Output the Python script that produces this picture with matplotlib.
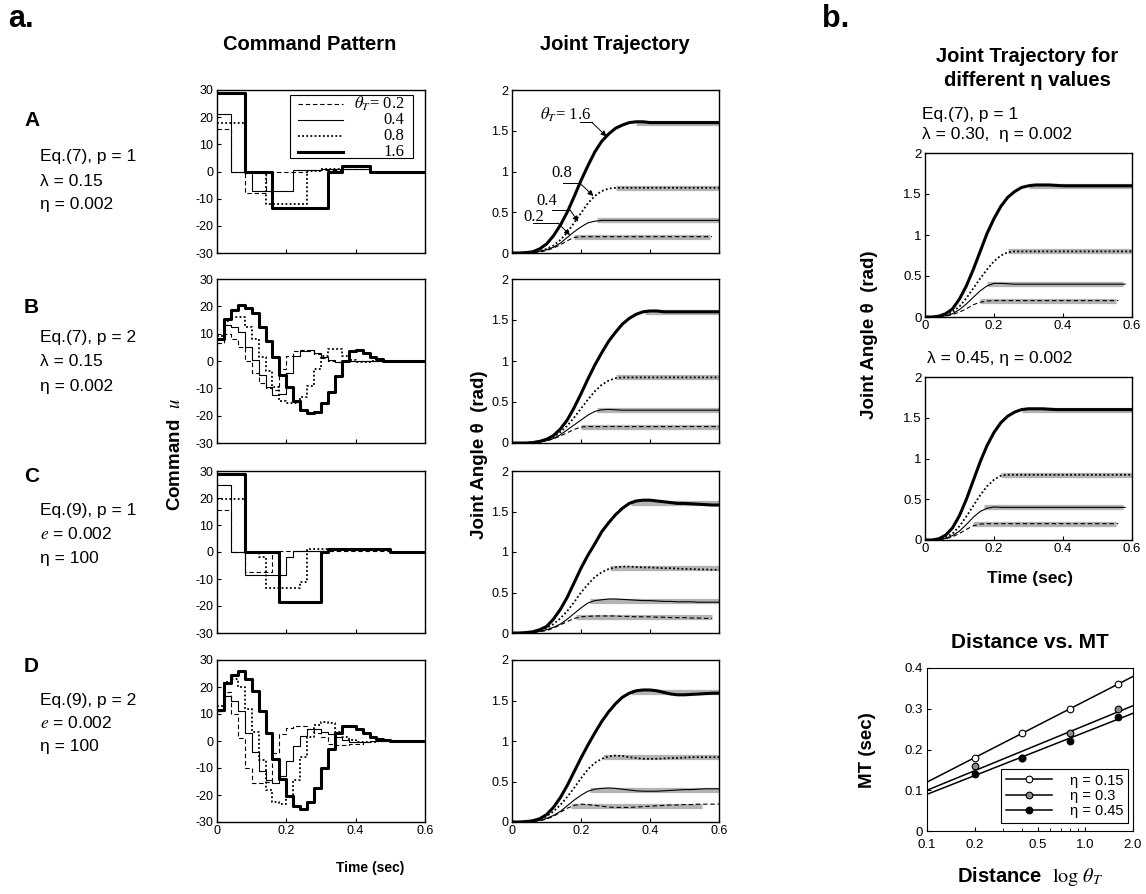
import matplotlib
matplotlib.use("Agg")
import matplotlib.pyplot as plt
import numpy as np
from matplotlib.ticker import FixedLocator, NullFormatter

plt.rcParams["font.family"] = ["Liberation Sans", "DejaVu Sans"]
plt.rcParams["mathtext.fontset"] = "stix"

W, H = 1146, 894

# ---------------- data ----------------
LEVELS = [0.2, 0.4, 0.8, 1.6]

# command patterns, panel A / C: step breakpoints (t, u)
cmdA_t = {
    0.2: [0, 0.04, 0.08, 0.14, 0.26, 0.36, 0.44, 0.6],
    0.4: [0, 0.04, 0.10, 0.22, 0.30, 0.36, 0.44, 0.6],
    0.8: [0, 0.08, 0.14, 0.26, 0.30, 0.36, 0.44, 0.6],
    1.6: [0, 0.08, 0.16, 0.32, 0.36, 0.44, 0.6],
}
cmdA_u = {
    0.2: [15.5, 0, -8, 0, 0.5, 1, 0, 0],
    0.4: [21, 0, -7, 0.5, 0.8, 1, 0, 0],
    0.8: [18, 0, -12, 0.3, 1, 1.5, 0, 0],
    1.6: [29, 0, -13.5, 0, 2, 0, 0],
}
cmdC_t = {
    0.2: [0, 0.04, 0.08, 0.16, 0.18, 0.5, 0.6],
    0.4: [0, 0.04, 0.08, 0.20, 0.22, 0.32, 0.5, 0.6],
    0.8: [0, 0.08, 0.12, 0.14, 0.24, 0.26, 0.32, 0.5, 0.6],
    1.6: [0, 0.08, 0.18, 0.30, 0.32, 0.50, 0.6],
}
cmdC_u = {
    0.2: [15.5, 0, -7.5, -0.5, 0.3, 0, 0],
    0.4: [25, 0, -8.5, -2, 0.3, 1, 0, 0],
    0.8: [19.5, 0, -2, -13.5, -11, 1, 1.2, 0, 0],
    1.6: [29, 0, -18.5, 0, 1.2, 0, 0],
}

# command patterns, panel B / D: one value per 0.02 s step
STEP_T = [round(0.02 * k, 2) for k in range(31)]
cmdB_u = {
    0.2: [6.5, 10, 8, 5, 0, -4.5, -8, -10, -10.5, -3, 2, 3.5, 4, 3.5, 2.5, 1, 0, -0.3]
         + [0] * 13,
    0.4: [8, 13, 12.5, 10.5, 5, 0.5, -5, -9.5, -12.5, -12, -4.5, 2, 3.5, 4, 3, 1.5,
          0.5, -0.3] + [0] * 13,
    0.8: [9, 14.5, 16, 16, 12.5, 8, 1.5, -3.5, -9.5, -14.5, -15.5, -15.5, -13, -9, -3,
          2, 4.5, 4.5, 2, 0.5, -0.3, -0.3] + [0] * 9,
    1.6: [8, 15.5, 18.5, 20.5, 19.5, 17.5, 12.5, 7.5, 1.5, -5, -9.5, -14.5, -18, -19,
          -18.5, -15.5, -11.5, -5.5, 0, 3.5, 4, 3, 1.5, 0.8] + [0] * 7,
}
cmdD_u = {
    0.2: [11, 18, 10, 1, -10, -15.5, -15.5, -15, -4.5, 2.5, 5, 5.5, 5.5, 4.5, 3, 1.5,
          -1, -1.5, -1.5, -1.2, -1, -0.5] + [0] * 9,
    0.4: [11, 16.5, 15, 11, 3, -4, -11, -14.5, -15.5, -13, -7.5, -2, 2, 4.5, 4.5, 3.5,
          2.5, 1.5, 0.5, -0.3, -0.5, -0.3] + [0] * 9,
    0.8: [13, 22, 23, 20, 12, 3.5, -7, -18, -22.5, -23.5, -20.5, -14.5, -6, 1.5, 6, 7,
          6.5, 3.5, 1.5, 0.2, -0.5, -0.5, -0.3] + [0] * 8,
    1.6: [11.5, 21.3, 24.4, 26, 23, 18.5, 11, 3, -6.5, -14, -20.5, -24, -25, -22.5,
          -17.5, -10, -3, 3, 5.5, 5.5, 4.3, 2.8, 1.6, 0.9, 0.4] + [0] * 6,
}

# joint trajectories, sampled every 0.02 s from t = 0
trajA = {
    0.2: [0, 0, 0.001, 0.004, 0.012, 0.03, 0.06, 0.10, 0.15, 0.19] + [0.20] * 20,
    0.4: [0, 0, 0.002, 0.008, 0.02, 0.04, 0.07, 0.12, 0.19, 0.26, 0.32, 0.37, 0.39,
          0.40, 0.40] + [0.40] * 16,
    0.8: [0, 0, 0.003, 0.01, 0.025, 0.05, 0.09, 0.16, 0.25, 0.37, 0.49, 0.61, 0.70,
          0.76, 0.79] + [0.80] * 16,
    1.6: [0, 0, 0.005, 0.015, 0.05, 0.11, 0.21, 0.34, 0.50, 0.69, 0.89, 1.07, 1.24,
          1.37, 1.46, 1.53, 1.57, 1.60, 1.61, 1.61] + [1.60] * 11,
}
trajB = {
    0.2: [0, 0, 0, 0.003, 0.01, 0.025, 0.05, 0.085, 0.125, 0.165, 0.195, 0.20]
         + [0.20] * 19,
    0.4: [0, 0, 0.001, 0.004, 0.012, 0.03, 0.055, 0.10, 0.16, 0.22, 0.28, 0.34, 0.385,
          0.405, 0.41, 0.405] + [0.40] * 15,
    0.8: [0, 0, 0.002, 0.005, 0.015, 0.035, 0.07, 0.13, 0.21, 0.31, 0.42, 0.53, 0.63,
          0.71, 0.76, 0.79, 0.80] + [0.80] * 14,
    1.6: [0, 0, 0, 0.005, 0.02, 0.045, 0.09, 0.17, 0.28, 0.43, 0.60, 0.78, 0.95, 1.10,
          1.24, 1.35, 1.45, 1.52, 1.57, 1.60, 1.61, 1.61] + [1.60] * 9,
}
trajC = {
    0.2: [0, 0, 0.001, 0.005, 0.015, 0.03, 0.06, 0.10, 0.14, 0.18, 0.20, 0.205, 0.21,
          0.21, 0.21, 0.21, 0.205, 0.205, 0.20, 0.20, 0.20, 0.195, 0.195, 0.19, 0.19,
          0.19, 0.185, 0.185, 0.18, 0.18],
    0.4: [0, 0, 0.002, 0.008, 0.02, 0.04, 0.07, 0.11, 0.17, 0.24, 0.31, 0.37, 0.40,
          0.41, 0.42, 0.42, 0.415, 0.41, 0.405, 0.40, 0.40, 0.395, 0.39, 0.39, 0.385,
          0.385, 0.385, 0.38, 0.38, 0.38, 0.38],
    0.8: [0, 0, 0.002, 0.01, 0.03, 0.06, 0.11, 0.18, 0.27, 0.38, 0.50, 0.60, 0.69,
          0.75, 0.79, 0.81, 0.82, 0.82, 0.815, 0.81, 0.81, 0.805, 0.80, 0.80, 0.795,
          0.79, 0.79, 0.785, 0.785, 0.78, 0.78],
    1.6: [0, 0, 0.005, 0.015, 0.04, 0.08, 0.17, 0.29, 0.44, 0.62, 0.80, 0.96, 1.10,
          1.25, 1.36, 1.46, 1.54, 1.60, 1.63, 1.64, 1.64, 1.63, 1.62, 1.61, 1.60,
          1.60, 1.595, 1.59, 1.585, 1.58, 1.58],
}
trajD = {
    0.2: [0, 0, 0.001, 0.005, 0.015, 0.035, 0.07, 0.12, 0.17, 0.205, 0.22, 0.215,
          0.205, 0.195, 0.185, 0.18, 0.18, 0.18, 0.185, 0.19, 0.195, 0.20, 0.205,
          0.21, 0.21, 0.215, 0.215, 0.22, 0.22, 0.22, 0.22],
    0.4: [0, 0, 0.002, 0.008, 0.02, 0.045, 0.08, 0.13, 0.20, 0.27, 0.33, 0.38, 0.405,
          0.415, 0.42, 0.415, 0.405, 0.395, 0.385, 0.38, 0.38, 0.38, 0.385, 0.39,
          0.395, 0.40, 0.40, 0.405, 0.41, 0.41, 0.41],
    0.8: [0, 0, 0.002, 0.01, 0.03, 0.07, 0.13, 0.21, 0.31, 0.42, 0.54, 0.65, 0.73,
          0.78, 0.81, 0.82, 0.815, 0.80, 0.79, 0.78, 0.78, 0.78, 0.785, 0.79, 0.79,
          0.795, 0.80, 0.80, 0.80, 0.80, 0.80],
    1.6: [0, 0, 0.005, 0.015, 0.04, 0.09, 0.18, 0.30, 0.45, 0.62, 0.79, 0.95, 1.10,
          1.24, 1.36, 1.46, 1.54, 1.59, 1.62, 1.63, 1.63, 1.62, 1.60, 1.58, 1.57,
          1.57, 1.575, 1.58, 1.585, 1.59, 1.59],
}
traj_b30 = {
    0.2: [0, 0, 0.002, 0.01, 0.03, 0.06, 0.10, 0.15, 0.18, 0.195, 0.20] + [0.20] * 18,
    0.4: [0, 0, 0.003, 0.015, 0.04, 0.09, 0.16, 0.24, 0.32, 0.38, 0.41, 0.41, 0.405]
         + [0.40] * 17,
    0.8: [0, 0, 0.005, 0.02, 0.06, 0.13, 0.23, 0.35, 0.47, 0.58, 0.68, 0.75, 0.79,
          0.80] + [0.80] * 17,
    1.6: [0, 0, 0.01, 0.04, 0.10, 0.22, 0.38, 0.58, 0.80, 1.02, 1.20, 1.35, 1.46,
          1.53, 1.58, 1.60, 1.61, 1.61, 1.61, 1.605, 1.60] + [1.60] * 10,
}
traj_b45 = {
    0.2: [0, 0, 0.003, 0.015, 0.04, 0.08, 0.13, 0.175, 0.195, 0.20] + [0.20] * 19,
    0.4: [0, 0, 0.004, 0.02, 0.055, 0.11, 0.19, 0.28, 0.35, 0.39, 0.405, 0.40]
         + [0.40] * 18,
    0.8: [0, 0, 0.007, 0.03, 0.08, 0.17, 0.29, 0.42, 0.55, 0.66, 0.74, 0.79, 0.80]
         + [0.80] * 18,
    1.6: [0, 0, 0.015, 0.06, 0.15, 0.30, 0.50, 0.73, 0.96, 1.16, 1.32, 1.44, 1.52,
          1.57, 1.60, 1.61, 1.61, 1.61, 1.605, 1.60] + [1.60] * 11,
}

# target bars: (start, end) of the grey line at each theta_T
barsA = {0.2: (0.18, 0.575), 0.4: (0.245, 0.6), 0.8: (0.30, 0.6), 1.6: (0.36, 0.6)}
barsB = {0.2: (0.20, 0.6), 0.4: (0.245, 0.6), 0.8: (0.30, 0.6), 1.6: (0.385, 0.6)}
barsC = {0.2: (0.185, 0.58), 0.4: (0.225, 0.6), 0.8: (0.285, 0.6), 1.6: (0.345, 0.6)}
barsD = {0.2: (0.17, 0.55), 0.4: (0.225, 0.6), 0.8: (0.265, 0.6), 1.6: (0.345, 0.6)}
bars_b30 = {0.2: (0.16, 0.555), 0.4: (0.18, 0.575), 0.8: (0.24, 0.6), 1.6: (0.30, 0.6)}
bars_b45 = {0.2: (0.14, 0.555), 0.4: (0.17, 0.575), 0.8: (0.22, 0.6), 1.6: (0.28, 0.6)}

# distance vs movement time
distance = [0.2, 0.4, 0.8, 1.6]
mt_eta015 = [0.18, 0.24, 0.30, 0.36]
mt_eta03 = [0.16, 0.18, 0.24, 0.30]
mt_eta045 = [0.14, 0.18, 0.22, 0.28]

row_labels = ["A", "B", "C", "D"]
row_params = [
    ["Eq.(7), p = 1", "λ = 0.15", "η = 0.002"],
    ["Eq.(7), p = 2", "λ = 0.15", "η = 0.002"],
    ["Eq.(9), p = 1", "$e$ = 0.002", "η = 100"],
    ["Eq.(9), p = 2", "$e$ = 0.002", "η = 100"],
]

# ---------------- styling ----------------
STY = {
    0.2: dict(color="k", lw=0.8, ls=(0, (4, 2.5))),
    0.4: dict(color="k", lw=0.8, ls="-"),
    0.8: dict(color="k", lw=1.3, ls=(0, (1, 1.3))),
    1.6: dict(color="k", lw=2.2, ls="-"),
}
GREY = "#b4b4b4"


def rect(l, t, r, b):
    return [l / W, 1 - b / H, (r - l) / W, (b - t) / H]


def style_axes(ax, show_x):
    ax.set_xlim(0, 0.6)
    ax.set_xticks([0, 0.2, 0.4, 0.6])
    if show_x:
        ax.set_xticklabels(["0", "0.2", "0.4", "0.6"])
    else:
        ax.set_xticklabels([])
    ax.tick_params(direction="in", length=3, labelsize=9, pad=2.5)
    for s in ax.spines.values():
        s.set_linewidth(1.0)


def draw_cmd(ax, t_dict, u_dict):
    for lv in LEVELS:
        t = t_dict[lv] if isinstance(t_dict, dict) else t_dict[:len(u_dict[lv])]
        ax.plot(t, u_dict[lv], drawstyle="steps-post", **STY[lv])
    ax.set_ylim(-30, 30)
    ax.set_yticks(range(-30, 31, 10))
    ax.set_yticklabels([str(v) for v in range(-30, 31, 10)])


def draw_traj(ax, traj, bars):
    for lv in LEVELS:
        s, e = bars[lv]
        ax.plot([s, e], [lv, lv], color=GREY, lw=3.8, solid_capstyle="butt", zorder=1)
    for lv in LEVELS:
        v = traj[lv]
        ax.plot(STEP_T[:len(v)], v, zorder=2, **STY[lv])
    ax.set_ylim(0, 2)
    ax.set_yticks([0, 0.5, 1, 1.5, 2])
    ax.set_yticklabels(["0", "0.5", "1", "1.5", "2"])


fig = plt.figure(figsize=(W / 100, H / 100), dpi=100)

rows = [(90, 253), (279, 443), (471, 633), (660, 822)]
cmd_sets = [(cmdA_t, cmdA_u), (STEP_T, cmdB_u), (cmdC_t, cmdC_u), (STEP_T, cmdD_u)]
trajs = [(trajA, barsA), (trajB, barsB), (trajC, barsC), (trajD, barsD)]
label_y = [(120, [157, 181, 205]), (307, [338, 362, 386]),
           (477, [510, 534, 559]), (666, [700, 723, 747])]

for i, (top, bot) in enumerate(rows):
    axc = fig.add_axes(rect(217, top, 425, bot))
    draw_cmd(axc, *cmd_sets[i])
    style_axes(axc, i == 3)
    axt = fig.add_axes(rect(512, top, 719, bot))
    draw_traj(axt, *trajs[i])
    style_axes(axt, i == 3)

    ly, py = label_y[i]
    fig.text(24 / W, 1 - ly / H, row_labels[i], fontsize=15, fontweight="bold",
             va="center")
    for txt, yy in zip(row_params[i], py):
        fig.text(40 / W, 1 - yy / H, txt, fontsize=12.5, va="center")

    if i == 0:
        # legend in the first command panel
        axc.add_patch(plt.Rectangle((0.351, 0.583), 0.59, 0.386, transform=axc.transAxes,
                                    fc="white", ec="k", lw=0.8, zorder=5))
        leg_y = [0.914, 0.818, 0.718, 0.62]
        leg_txt = [r"$\theta_T$= 0.2", "0.4", "0.8", "1.6"]
        for lv, yy, tx in zip(LEVELS, leg_y, leg_txt):
            axc.plot([0.39, 0.606], [yy, yy], transform=axc.transAxes, zorder=6, **STY[lv])
            axc.text(0.9, yy, tx, transform=axc.transAxes, ha="right", va="center",
                     fontsize=12, family="Liberation Serif", zorder=6)

        # arrows labelling the trajectories
        ann = [
            (r"$\theta_T$= 1.6", (0.081, 1.69), (0.197, 0.231, 1.605), (0.274, 1.43)),
            ("0.8", (0.115, 0.98), (0.148, 0.197, 0.855), (0.236, 0.70)),
            ("0.4", (0.072, 0.64), (0.115, 0.168, 0.53), (0.192, 0.385)),
            ("0.2", (0.032, 0.445), (0.061, 0.133, 0.368), (0.168, 0.22)),
        ]
        for txt, (tx, ty), (ux0, ux1, uy), tip in ann:
            axt.text(tx, ty, txt, fontsize=12, family="Liberation Serif",
                     ha="left", va="center")
            axt.plot([ux0, ux1], [uy, uy], color="k", lw=0.7)
            axt.annotate("", xy=tip, xytext=(ux1, uy),
                         arrowprops=dict(arrowstyle="-|>", color="k", lw=0.7,
                                         mutation_scale=8, shrinkA=0, shrinkB=0))

# panel b trajectories
axb1 = fig.add_axes(rect(925, 153, 1132, 317))
draw_traj(axb1, traj_b30, bars_b30)
style_axes(axb1, True)
axb2 = fig.add_axes(rect(925, 377, 1132, 540))
draw_traj(axb2, traj_b45, bars_b45)
style_axes(axb2, True)
for ax in (axb1, axb2):
    ax.tick_params(labelsize=9.5)

# distance vs MT
axm = fig.add_axes(rect(927, 668, 1133, 831))
logd = np.log10(distance)
xfit = np.array([0.1, 2.0])
for mt, fc, lab in [(mt_eta015, "white", "η = 0.15"), (mt_eta03, "#8a8a8a", "η = 0.3"),
                    (mt_eta045, "black", "η = 0.45")]:
    k, c = np.polyfit(logd, mt, 1)
    axm.plot(xfit, k * np.log10(xfit) + c, color="k", lw=1.1, zorder=2)
    axm.plot(distance, mt, "o", mfc=fc, mec="k", mew=0.8, ms=4.8, zorder=3)
    axm.plot([], [], "-o", color="k", mfc=fc, mec="k", mew=0.8, ms=4.8, lw=1.1,
             label=lab)
axm.set_xscale("log")
axm.set_xlim(0.1, 2.0)
axm.set_ylim(0, 0.4)
axm.xaxis.set_major_locator(FixedLocator([0.1, 0.2, 0.5, 1.0, 2.0]))
axm.set_xticklabels(["0.1", "0.2", "0.5", "1.0", "2.0"])
axm.xaxis.set_minor_locator(FixedLocator([0.3, 0.4, 0.6, 0.7, 0.8, 0.9]))
axm.xaxis.set_minor_formatter(NullFormatter())
axm.set_yticks([0, 0.1, 0.2, 0.3, 0.4])
axm.set_yticklabels(["0", "0.1", "0.2", "0.3", "0.4"])
axm.tick_params(which="both", direction="in", labelsize=9.5, pad=3)
axm.tick_params(axis="x", which="major", pad=6)
axm.tick_params(which="major", length=3)
axm.tick_params(which="minor", length=2)
leg = axm.legend(loc="lower right", bbox_to_anchor=(0.975, 0.05), borderaxespad=0,
                 fontsize=10.5, handlelength=3.2, fancybox=False, framealpha=1,
                 edgecolor="k", borderpad=0.3, labelspacing=0.1, handletextpad=1.2)
leg.get_frame().set_linewidth(0.8)

# ---------------- titles and labels ----------------
fig.text(8 / W, 1 - 19 / H, "a.", fontsize=22, fontweight="bold", va="center")
fig.text(822 / W, 1 - 19 / H, "b.", fontsize=22, fontweight="bold", va="center")
fig.text(310 / W, 1 - 45 / H, "Command Pattern", fontsize=14.5, fontweight="bold",
         ha="center", va="center")
fig.text(615 / W, 1 - 45 / H, "Joint Trajectory", fontsize=14.5, fontweight="bold",
         ha="center", va="center")
fig.text(1027 / W, 1 - 57 / H, "Joint Trajectory for", fontsize=14.5,
         fontweight="bold", ha="center", va="center")
fig.text(1027 / W, 1 - 81 / H, "different η values", fontsize=14.5,
         fontweight="bold", ha="center", va="center")
fig.text(922 / W, 1 - 114 / H, "Eq.(7), p = 1", fontsize=12.5, va="center")
fig.text(922 / W, 1 - 134 / H, "λ = 0.30,  η = 0.002", fontsize=12.5, va="center")
fig.text(927 / W, 1 - 358 / H, "λ = 0.45, η = 0.002", fontsize=12.5, va="center")
fig.text(175 / W, 1 - 455 / H, r"Command  $u$", fontsize=13.5, fontweight="bold",
         rotation=90, ha="center", va="center")
fig.text(480 / W, 1 - 455 / H, "Joint Angle θ  (rad)", fontsize=13.5,
         fontweight="bold", rotation=90, ha="center", va="center")
fig.text(370 / W, 1 - 868 / H, "Time (sec)", fontsize=10, fontweight="bold",
         ha="center", va="center")
fig.text(870 / W, 1 - 335 / H, "Joint Angle θ  (rad)", fontsize=13.5,
         fontweight="bold", rotation=90, ha="center", va="center")
fig.text(1030 / W, 1 - 578 / H, "Time (sec)", fontsize=12.5, fontweight="bold",
         ha="center", va="center")
fig.text(1030 / W, 1 - 643 / H, "Distance vs. MT", fontsize=15, fontweight="bold",
         ha="center", va="center")
fig.text(868 / W, 1 - 750 / H, "MT (sec)", fontsize=13.5, fontweight="bold",
         rotation=90, ha="center", va="center")
fig.text(1030 / W, 1 - 877 / H, r"Distance  $\log\,\theta_T$", fontsize=14.5,
         fontweight="bold", ha="center", va="center")

fig.savefig("out.png", dpi=100)
